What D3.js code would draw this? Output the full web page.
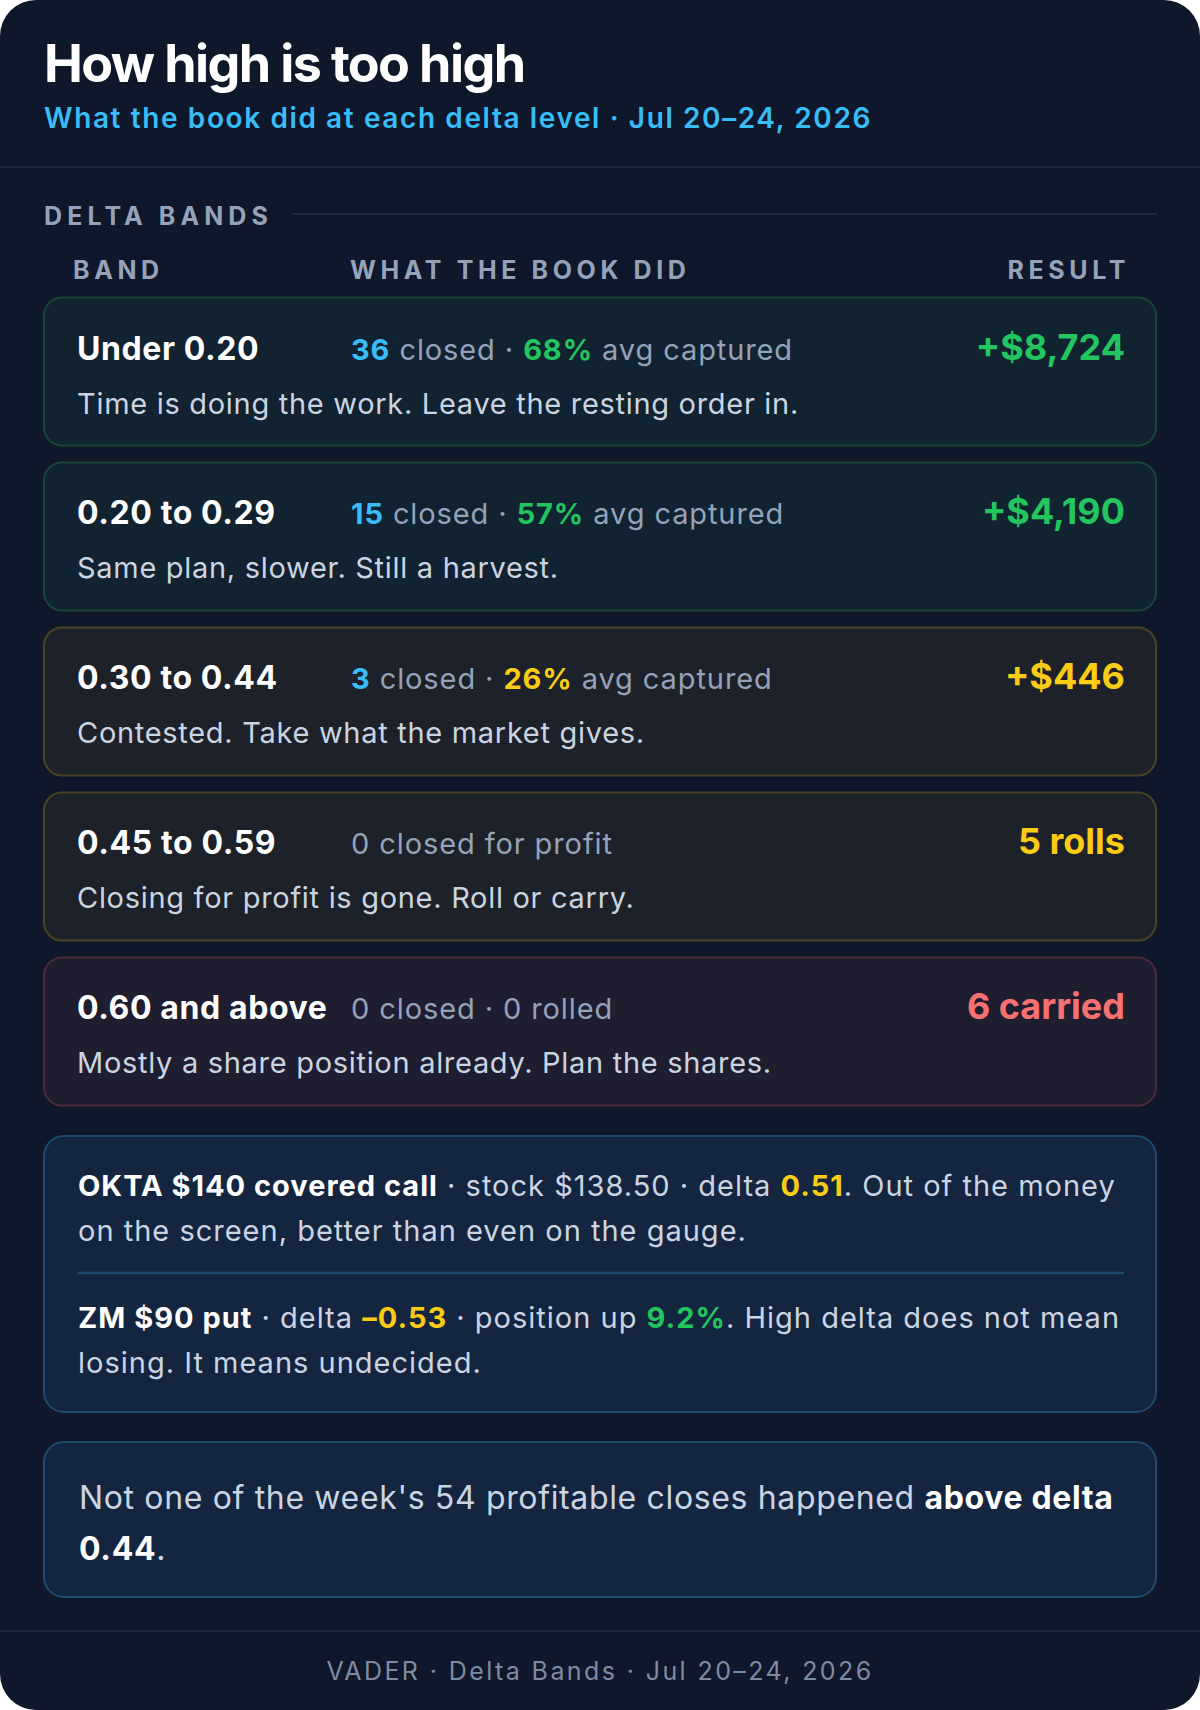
<!DOCTYPE html>
<html>
<head>
<meta charset="utf-8">
<script src="https://cdn.jsdelivr.net/npm/d3@7"></script>
<style>
  html, body { margin: 0; padding: 0; background: #ffffff; }
  svg { display: block; font-family: Inter, "Noto Sans", sans-serif; }
  text { white-space: pre; }
</style>
</head>
<body>
<div id="chart"></div>
<script>
// band rows, top to bottom
var bands = ["Under 0.20", "0.20 to 0.29", "0.30 to 0.44", "0.45 to 0.59", "0.60 and above"];
var closedCounts = [36, 15, 3, 0, 0];
var avgCaptured = [68, 57, 26, null, null];
var rolledCounts = [null, null, null, null, 0];
var resultValues = [8724, 4190, 446, 5, 6];
var resultKinds = ["usd", "usd", "usd", "rolls", "carried"];
var tones = ["green", "green", "yellow", "yellow", "red"];
var notes = [
  "Time is doing the work. Leave the resting order in.",
  "Same plan, slower. Still a harvest.",
  "Contested. Take what the market gives.",
  "Closing for profit is gone. Roll or carry.",
  "Mostly a share position already. Plan the shares."
];
var headers = ["BAND", "WHAT THE BOOK DID", "RESULT"];

// callout lines (segments: text, style)
var calloutLines = [
  [["OKTA $140 covered call", "strong"], [" \u00b7 stock $138.50 \u00b7 delta ", "base"], ["0.51", "yellow"], [". Out of the money", "base"]],
  [["on the screen, better than even on the gauge.", "base"]],
  [["ZM $90 put", "strong"], [" \u00b7 delta ", "base"], ["\u20130.53", "yellow"], [" \u00b7 position up ", "base"], ["9.2%", "green"], [". High delta does not mean", "base"]],
  [["losing. It means undecided.", "base"]]
];
var takeawayLines = [
  [["Not one of the week's 54 profitable closes happened ", "base"], ["above delta", "strong"]],
  [["0.44", "strong"], [".", "base"]]
];

var W = 1200, H = 1710;
var colors = {
  bg: "#0f172a", rule: "#1e293b", label: "#94a3b8", muted: "#94a3b8", body: "#cbd5e1",
  white: "#ffffff", blue: "#38bdf8", green: "#22c55e", yellow: "#facc15", red: "#f87171"
};
var toneFill = { green: "#112230", yellow: "#1d2129", red: "#1f1e30" };
var toneStroke = { green: "#184536", yellow: "#4a4424", red: "#4a2a39" };
var segStyle = {
  base: { fill: colors.body, weight: 400 },
  strong: { fill: colors.white, weight: 700 },
  yellow: { fill: colors.yellow, weight: 700 },
  green: { fill: colors.green, weight: 700 }
};

var svg = d3.select("#chart").append("svg").attr("width", W).attr("height", H);
svg.append("rect").attr("width", W).attr("height", H).attr("rx", 36).attr("fill", colors.bg);

// title block
svg.append("text").attr("x", 44).attr("y", 82)
  .attr("font-size", 52).attr("font-weight", 700).attr("letter-spacing", -1.6)
  .attr("fill", colors.white).text("How high is too high");
svg.append("text").attr("x", 44).attr("y", 128)
  .attr("font-size", 28).attr("font-weight", 600).attr("letter-spacing", 1.6)
  .attr("fill", colors.blue).text("What the book did at each delta level \u00b7 Jul 20\u201324, 2026");
svg.append("line").attr("x1", 0).attr("x2", W).attr("y1", 167).attr("y2", 167)
  .attr("stroke", colors.rule).attr("stroke-width", 2);

// section label
svg.append("text").attr("x", 44).attr("y", 225)
  .attr("font-size", 25).attr("font-weight", 700).attr("letter-spacing", 5.1)
  .attr("fill", colors.label).text("DELTA BANDS");
svg.append("line").attr("x1", 292).attr("x2", 1157).attr("y1", 214).attr("y2", 214)
  .attr("stroke", colors.rule).attr("stroke-width", 2);

var colX = [73, 350, 1130];
svg.selectAll(".hdr").data(headers).enter().append("text")
  .attr("class", "hdr")
  .attr("x", function(d, i) { return colX[i]; })
  .attr("y", 279)
  .attr("text-anchor", function(d, i) { return i == 2 ? "end" : "start"; })
  .attr("font-size", 25).attr("font-weight", 700).attr("letter-spacing", 4.6)
  .attr("fill", colors.label).text(function(d) { return d; });

// band cards
var y = d3.scaleBand().domain(bands).range([297.5, 1105.5]).paddingInner(0.103);
var money = d3.format(",");

var card = svg.selectAll(".card").data(bands).enter().append("g")
  .attr("class", "card")
  .attr("transform", function(d) { return "translate(44," + y(d) + ")"; });

card.append("rect")
  .attr("width", 1112).attr("height", y.bandwidth()).attr("rx", 18)
  .attr("fill", function(d, i) { return toneFill[tones[i]]; })
  .attr("stroke", function(d, i) { return toneStroke[tones[i]]; })
  .attr("stroke-width", 2);

card.append("text").attr("x", 33).attr("y", 62)
  .attr("font-size", 32).attr("font-weight", 700).attr("letter-spacing", 0.6)
  .attr("fill", colors.white)
  .text(function(d) { return d; });

card.each(function(d, i) {
  var t = d3.select(this).append("text").attr("x", 307).attr("y", 62)
    .attr("font-size", 29).attr("letter-spacing", 0.9).attr("fill", colors.muted);
  var pctColor = tones[i] == "green" ? colors.green : colors.yellow;
  if (avgCaptured[i] != null) {
    t.append("tspan").attr("fill", colors.blue).attr("font-weight", 700).text(closedCounts[i]);
    t.append("tspan").text(" closed \u00b7 ");
    t.append("tspan").attr("fill", pctColor).attr("font-weight", 700).text(avgCaptured[i] + "%");
    t.append("tspan").text(" avg captured");
  } else if (rolledCounts[i] != null) {
    t.append("tspan").text(closedCounts[i] + " closed \u00b7 " + rolledCounts[i] + " rolled");
  } else {
    t.append("tspan").text(closedCounts[i] + " closed for profit");
  }
});

card.append("text").attr("x", 1081).attr("y", 62).attr("text-anchor", "end")
  .attr("font-size", 36).attr("font-weight", 700)
  .attr("fill", function(d, i) { return colors[tones[i]]; })
  .text(function(d, i) {
    var v = resultValues[i];
    if (resultKinds[i] == "usd") return "+$" + money(v);
    return v + " " + resultKinds[i];
  });

card.append("text").attr("x", 33).attr("y", 116)
  .attr("font-size", 29).attr("letter-spacing", 0.7).attr("fill", colors.body)
  .text(function(d, i) { return notes[i]; });

// rich text helper
function richLine(g, segs, x, yy, size, ls) {
  var t = g.append("text").attr("x", x).attr("y", yy)
    .attr("font-size", size).attr("letter-spacing", ls);
  segs.forEach(function(s) {
    t.append("tspan").attr("fill", segStyle[s[1]].fill)
      .attr("font-weight", segStyle[s[1]].weight).text(s[0]);
  });
}

// callout box
var box1 = svg.append("g").attr("transform", "translate(44,1136)");
box1.append("rect").attr("width", 1112).attr("height", 276).attr("rx", 20)
  .attr("fill", "#14263f").attr("stroke", "#1e4a6b").attr("stroke-width", 2);
var callY = [60, 105, 192, 237];
calloutLines.forEach(function(l, i) { richLine(box1, l, 34, callY[i], 29, 1.0); });
box1.append("line").attr("x1", 34).attr("x2", 1080).attr("y1", 137).attr("y2", 137)
  .attr("stroke", "#1e4a6b").attr("stroke-width", 2.5);

// takeaway box
var box2 = svg.append("g").attr("transform", "translate(44,1442)");
box2.append("rect").attr("width", 1112).attr("height", 155).attr("rx", 20)
  .attr("fill", "#14263f").attr("stroke", "#1e4a6b").attr("stroke-width", 2);
var takeY = [67, 118];
takeawayLines.forEach(function(l, i) { richLine(box2, l, 35, takeY[i], 32, 0.65); });

// footer
svg.append("line").attr("x1", 0).attr("x2", W).attr("y1", 1631).attr("y2", 1631)
  .attr("stroke", colors.rule).attr("stroke-width", 2);
svg.append("text").attr("x", W / 2).attr("y", 1680).attr("text-anchor", "middle")
  .attr("font-size", 25).attr("letter-spacing", 2.4).attr("fill", "#7f8ba0")
  .text("VADER \u00b7 Delta Bands \u00b7 Jul 20\u201324, 2026");
</script>
</body>
</html>
